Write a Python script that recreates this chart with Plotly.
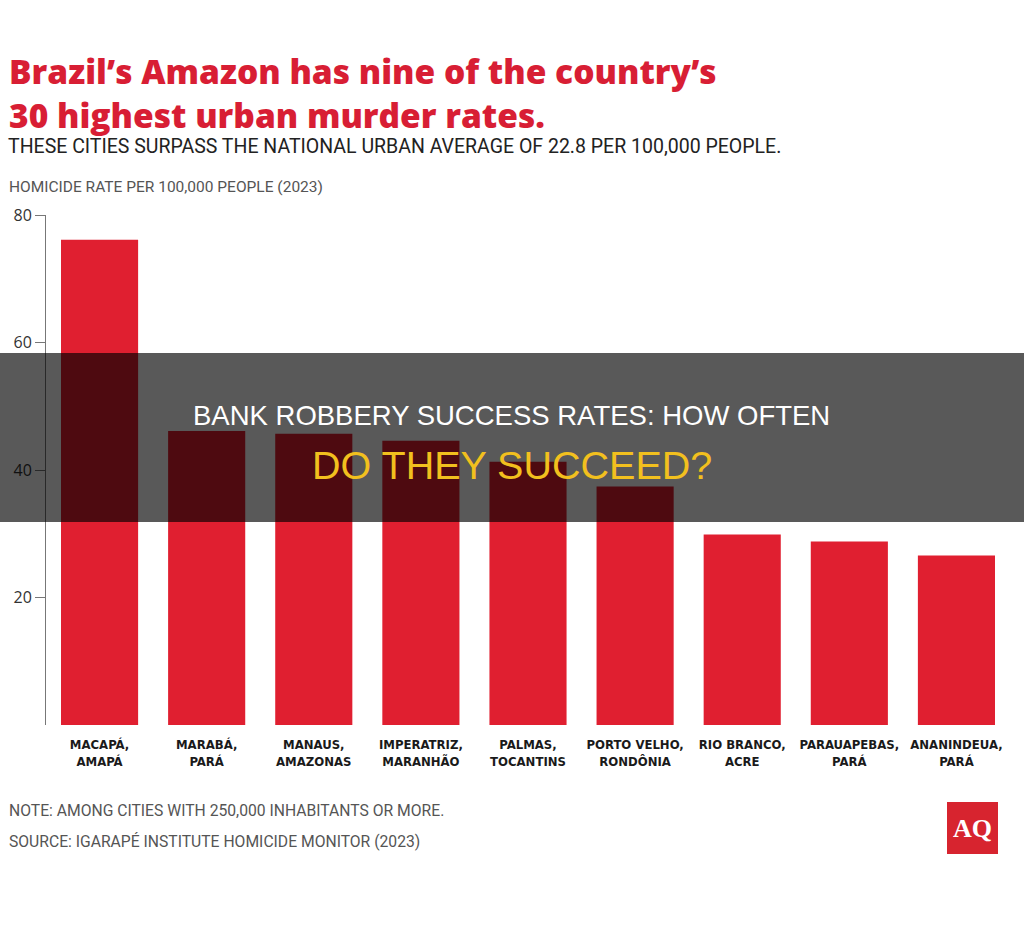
import plotly.graph_objects as go

cities = ["MACAPÁ,<br>AMAPÁ", "MARABÁ,<br>PARÁ", "MANAUS,<br>AMAZONAS", "IMPERATRIZ,<br>MARANHÃO",
          "PALMAS,<br>TOCANTINS", "PORTO VELHO,<br>RONDÔNIA", "RIO BRANCO,<br>ACRE",
          "PARAUAPEBAS,<br>PARÁ", "ANANINDEUA,<br>PARÁ"]
rates = [76.1, 46.1, 45.7, 44.6, 41.3, 37.4, 29.9, 28.8, 26.6]
y_ticks = [20, 40, 60, 80]

W, H = 1024, 926
L, R, T, B = 46, 14, 215, 201
PW, PH = W - L - R, H - T - B

def px(x):
    return (x - L) / PW

def py(y):
    return (H - B - y) / PH

fig = go.Figure()
fig.add_trace(go.Bar(
    x=list(range(len(cities))), y=rates,
    marker=dict(color="#e01f30", line=dict(width=0)),
    hoverinfo="skip",
))

fig.update_layout(
    width=W, height=H,
    margin=dict(l=L, r=R, t=T, b=B),
    paper_bgcolor="white", plot_bgcolor="white",
    showlegend=False, bargap=0.28,
    xaxis=dict(
        range=[-0.5, len(cities) - 0.5],
        tickmode="array", tickvals=list(range(len(cities))), ticktext=cities,
        showgrid=False, zeroline=False, showline=False, ticks="",
        ticklabelstandoff=10,
        tickfont=dict(family="DejaVu Sans Condensed, Roboto", size=13,
                      color="#1a1a1a", weight="bold"),
    ),
    yaxis=dict(
        range=[0, 80], tickmode="array", tickvals=y_ticks,
        showgrid=False, zeroline=False, showline=True, linecolor="#777", linewidth=1,
        ticks="outside", ticklen=10, tickcolor="#777",
        tickfont=dict(family="Open Sans", size=16, color="#333"),
    ),
)

anns = [
    dict(text="Brazil’s Amazon has nine of the country’s<br>30 highest urban murder rates.", x=px(7), y=py(93),
         align="left",
         font=dict(family="Open Sans", size=33.5, color="#d81e34", weight=800)),
    dict(text="THESE CITIES SURPASS THE NATIONAL URBAN AVERAGE OF 22.8 PER 100,000 PEOPLE.", x=px(6), y=py(146),
         font=dict(family="Roboto", size=19.5, color="#222")),
    dict(text="HOMICIDE RATE PER 100,000 PEOPLE (2023)", x=px(7), y=py(187),
         font=dict(family="Roboto", size=15.5, color="#555")),
    dict(text="NOTE: AMONG CITIES WITH 250,000 INHABITANTS OR MORE.", x=px(7), y=py(810),
         font=dict(family="Roboto", size=15.7, color="#555")),
    dict(text="SOURCE: IGARAPÉ INSTITUTE HOMICIDE MONITOR (2023)", x=px(7), y=py(841),
         font=dict(family="Roboto", size=15.7, color="#555")),
]
for a in anns:
    fig.add_annotation(xref="paper", yref="paper", xanchor="left", yanchor="middle",
                       showarrow=False, **a)

# overlay band
fig.add_shape(type="rect", xref="paper", yref="paper", x0=px(0), x1=px(W), y0=py(522), y1=py(353),
              fillcolor="rgba(0,0,0,0.65)", line=dict(width=0), layer="above")
fig.add_annotation(xref="paper", yref="paper", x=px(511.5), y=py(415), xanchor="center", yanchor="middle",
                   showarrow=False, text="BANK ROBBERY SUCCESS RATES: HOW OFTEN",
                   font=dict(family="Liberation Sans", size=27.5, color="white"))
fig.add_annotation(xref="paper", yref="paper", x=px(511.5), y=py(465), xanchor="center", yanchor="middle",
                   showarrow=False, text="DO THEY SUCCEED?",
                   font=dict(family="Liberation Sans", size=39.5, color="#f2c01e"))

# AQ logo
fig.add_shape(type="rect", xref="paper", yref="paper", x0=px(947), x1=px(998), y0=py(854), y1=py(802),
              fillcolor="#d7242f", line=dict(width=0), layer="above")
fig.add_annotation(xref="paper", yref="paper", x=px(972.5), y=py(828), xanchor="center", yanchor="middle",
                   showarrow=False, text="AQ",
                   font=dict(family="Liberation Serif", size=26, color="white", weight="bold"))

fig.write_html("out.html")
